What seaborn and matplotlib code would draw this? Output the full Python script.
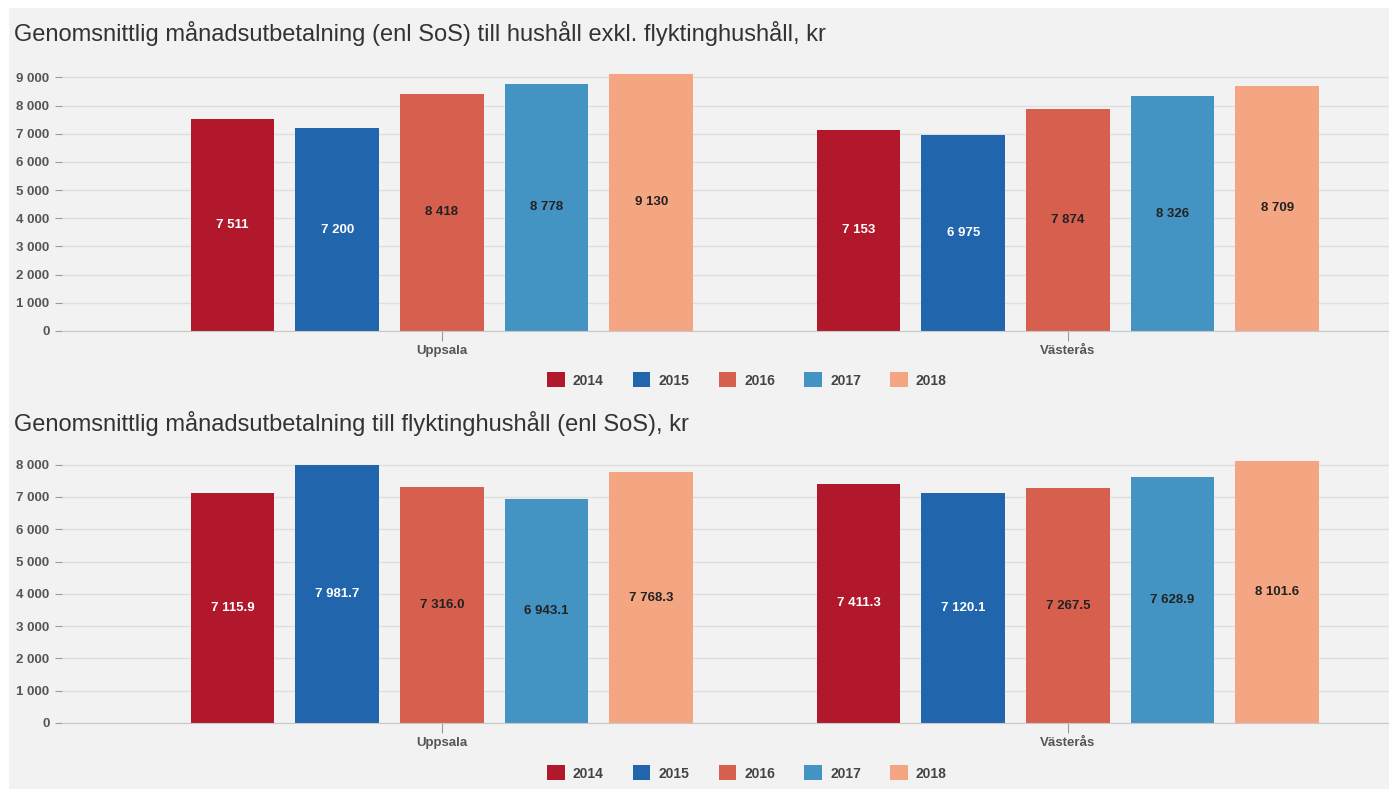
import pandas as pd
import matplotlib.pyplot as plt
import seaborn as sns
from matplotlib.patches import Rectangle

plt.rcParams["font.family"] = ["Liberation Sans", "DejaVu Sans"]

# data
cities = ["Uppsala", "Västerås"]
years = ["2014", "2015", "2016", "2017", "2018"]
exkl_uppsala = [7511, 7200, 8418, 8778, 9130]
exkl_vasteras = [7153, 6975, 7874, 8326, 8709]
flykt_uppsala = [7115.9, 7981.7, 7316.0, 6943.1, 7768.3]
flykt_vasteras = [7411.3, 7120.1, 7267.5, 7628.9, 8101.6]
colors = ["#b2182b", "#2166ac", "#d6604d", "#4393c3", "#f4a582"]
label_colors = ["white", "white", "#222222", "#222222", "#222222"]

titles = [
    "Genomsnittlig månadsutbetalning (enl SoS) till hushåll exkl. flyktinghushåll, kr",
    "Genomsnittlig månadsutbetalning till flyktinghushåll (enl SoS), kr",
]


def to_long(upp, vas):
    rows = []
    for city, vals in zip(cities, [upp, vas]):
        for y, v in zip(years, vals):
            rows.append({"stad": city, "år": y, "värde": v})
    return pd.DataFrame(rows)


def fmt(v, dec):
    s = f"{v:,.{dec}f}".replace(",", " ")
    return s


def draw(ax, df, ymax, yticks, dec):
    ax.set_facecolor("#f2f2f2")
    sns.barplot(
        data=df,
        x="stad",
        y="värde",
        hue="år",
        palette=colors,
        saturation=1,
        width=0.836,
        gap=0.2,
        legend=False,
        ax=ax,
    )
    for cont, lc in zip(ax.containers, label_colors):
        ax.bar_label(
            cont,
            labels=[fmt(b.get_height(), dec) for b in cont],
            label_type="center",
            color=lc,
            fontsize=9.5,
            fontweight="bold",
        )
    ax.set_xlim(-0.607, 1.513)
    ax.set_ylim(0, ymax)
    ax.set_yticks(yticks)
    ax.set_yticklabels([fmt(t, 0) for t in yticks])
    ax.grid(axis="y", color="#dedede", linewidth=1)
    ax.set_axisbelow(True)
    ax.set_xlabel("")
    ax.set_ylabel("")
    for s in ["top", "right", "left"]:
        ax.spines[s].set_visible(False)
    ax.spines["bottom"].set_color("#c8c8c8")
    ax.tick_params(axis="y", length=5, color="#999999", labelsize=9.5,
                   labelcolor="#555555", pad=4)
    ax.tick_params(axis="x", length=7, color="#999999", labelsize=9.5,
                   labelcolor="#555555", pad=3)
    for lab in ax.get_xticklabels() + ax.get_yticklabels():
        lab.set_fontweight("bold")


fig = plt.figure(figsize=(13.89, 7.89), dpi=100, facecolor="white")
fig.patches.append(Rectangle((9 / 1389, 0), 1, 1 - 8 / 789, transform=fig.transFigure,
                             facecolor="#f2f2f2", edgecolor="none", zorder=-10))

ax1 = fig.add_axes([62 / 1389, 0.5805, 1 - 62 / 1389, 0.332])
ax2 = fig.add_axes([62 / 1389, 0.0837, 1 - 62 / 1389, 0.3397])

draw(ax1, to_long(exkl_uppsala, exkl_vasteras), 9300, range(0, 9001, 1000), 0)
draw(ax2, to_long(flykt_uppsala, flykt_vasteras), 8300, range(0, 8001, 1000), 1)

fig.text(14 / 1389, 1 - 33 / 789, titles[0], fontsize=17, color="#333333", va="center")
fig.text(14 / 1389, 1 - 423 / 789, titles[1], fontsize=17, color="#333333", va="center")

handles = [Rectangle((0, 0), 1, 1, facecolor=c) for c in colors]
for ycen in [1 - 380 / 789, 1 - 773 / 789]:
    leg = fig.legend(
        handles, years, loc="center", bbox_to_anchor=(747 / 1389, ycen),
        ncol=5, frameon=False, handlelength=1.25, handleheight=1.25,
        columnspacing=2.1, handletextpad=0.6, prop={"size": 10, "weight": "bold"},
    )
    for t in leg.get_texts():
        t.set_color("#444444")

fig.savefig("out.png", dpi=100, facecolor=fig.get_facecolor())
